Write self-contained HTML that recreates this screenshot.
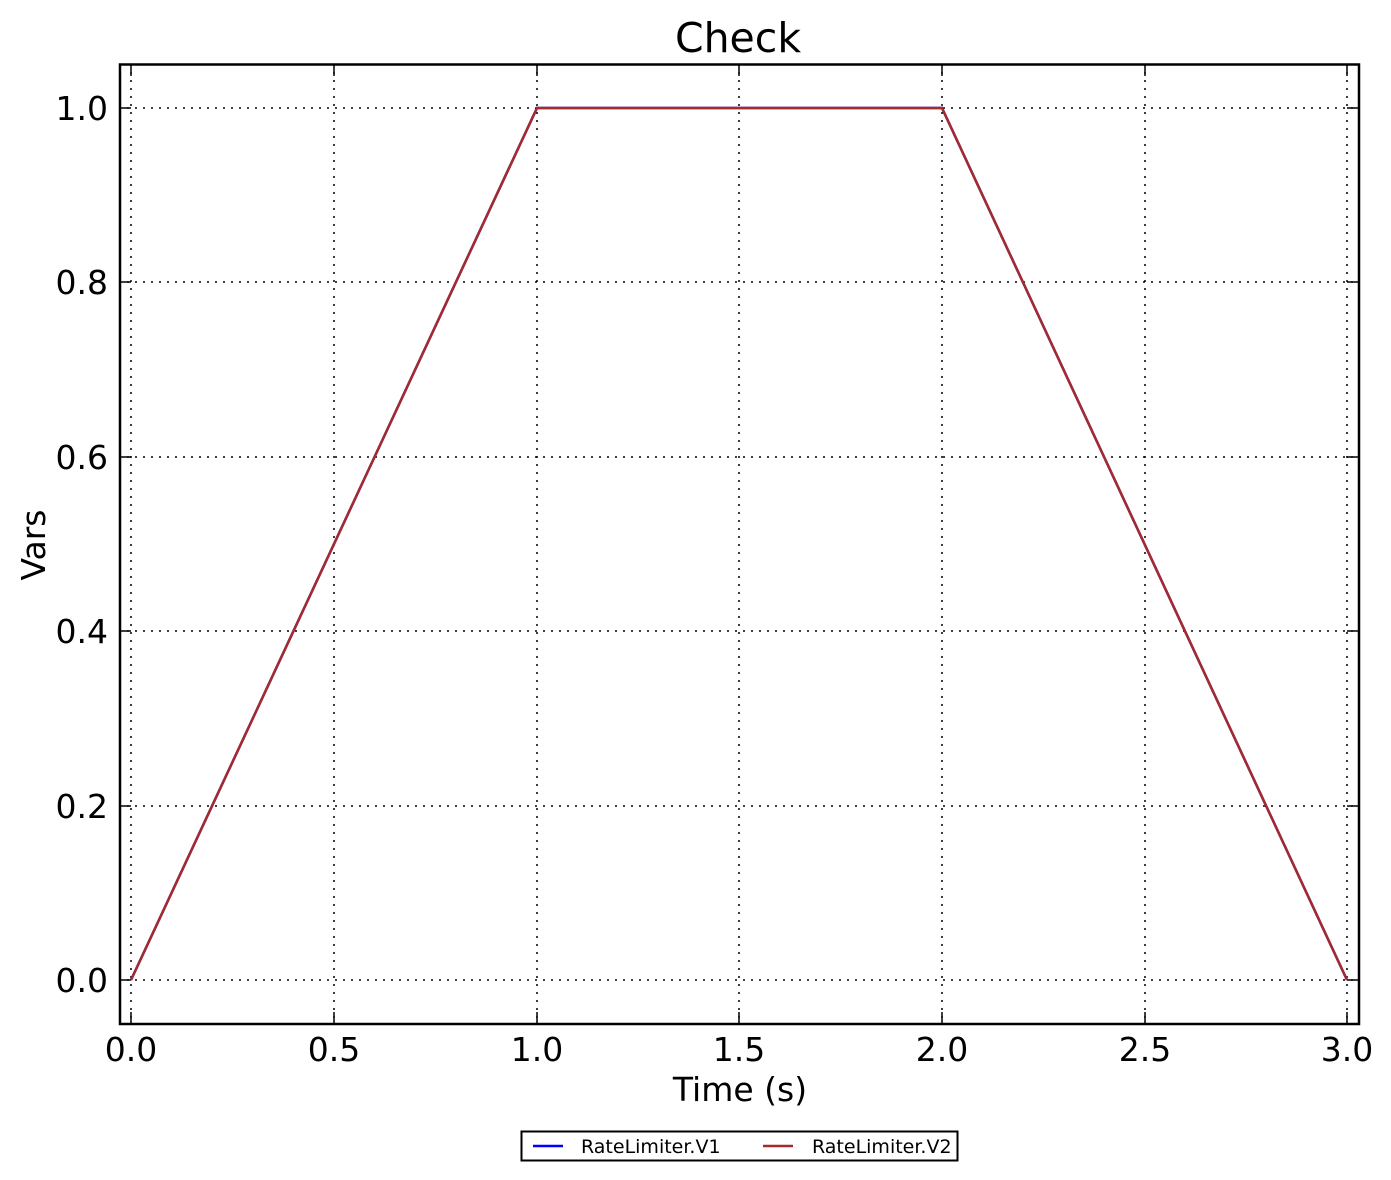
<!DOCTYPE html>
<html><head><meta charset="utf-8"><style>body{margin:0;background:#fff}svg{display:block}</style></head>
<body>
<svg width="1391" height="1180" xmlns="http://www.w3.org/2000/svg" font-family="DejaVu Sans, Liberation Sans, sans-serif">
<rect width="1391" height="1180" fill="#fff"/>
<g stroke="#000" stroke-width="1.5" stroke-dasharray="2,6">
<line x1="131" y1="64" x2="131" y2="1024"/><line x1="334" y1="64" x2="334" y2="1024"/><line x1="537" y1="64" x2="537" y2="1024"/><line x1="739" y1="64" x2="739" y2="1024"/><line x1="942" y1="64" x2="942" y2="1024"/><line x1="1145" y1="64" x2="1145" y2="1024"/><line x1="1347" y1="64" x2="1347" y2="1024"/>
<line x1="119" y1="980" x2="1359" y2="980"/><line x1="119" y1="806" x2="1359" y2="806"/><line x1="119" y1="631" x2="1359" y2="631"/><line x1="119" y1="457" x2="1359" y2="457"/><line x1="119" y1="282" x2="1359" y2="282"/><line x1="119" y1="108" x2="1359" y2="108"/>
</g>
<g stroke="#000" stroke-width="1.5">
<path d="M131 64v12M334 64v12M537 64v12M739 64v12M942 64v12M1145 64v12M1347 64v12M131 1024v-12M334 1024v-12M537 1024v-12M739 1024v-12M942 1024v-12M1145 1024v-12M1347 1024v-12"/>
<path d="M119 980h12M119 806h12M119 631h12M119 457h12M119 282h12M119 108h12M1359 980h-12M1359 806h-12M1359 631h-12M1359 457h-12M1359 282h-12M1359 108h-12"/>
</g>
<polyline points="131,980 537,108 942,108 1347,980" fill="none" stroke="#0000ff" stroke-width="2.5"/>
<polyline points="131,980 537,108 942,108 1347,980" fill="none" stroke="#a52a2a" stroke-width="2.5"/>
<rect x="120" y="64.5" width="1239" height="959.5" fill="none" stroke="#000" stroke-width="2.5"/>
<g font-size="33" text-anchor="end" fill="#000">
<text x="108" y="992">0.0</text><text x="108" y="818">0.2</text><text x="108" y="643">0.4</text><text x="108" y="469">0.6</text><text x="108" y="294">0.8</text><text x="108" y="120">1.0</text>
</g>
<g font-size="33" text-anchor="middle" fill="#000">
<text x="131" y="1061">0.0</text><text x="334" y="1061">0.5</text><text x="537" y="1061">1.0</text><text x="739" y="1061">1.5</text><text x="942" y="1061">2.0</text><text x="1145" y="1061">2.5</text><text x="1347" y="1061">3.0</text>
<text x="740" y="1101">Time (s)</text>
<text x="738" y="52" font-size="41">Check</text>
<text transform="translate(45,545) rotate(-90)">Vars</text>
</g>
<rect x="521.5" y="1131.5" width="436" height="29" fill="#fff" stroke="#000" stroke-width="2"/>
<line x1="533" y1="1146" x2="563" y2="1146" stroke="#0000ff" stroke-width="2.5"/>
<line x1="763" y1="1146" x2="793" y2="1146" stroke="#a52a2a" stroke-width="2.5"/>
<g font-size="19" fill="#000"><text x="581" y="1153">RateLimiter.V1</text><text x="812" y="1153">RateLimiter.V2</text></g>
</svg>
</body></html>
